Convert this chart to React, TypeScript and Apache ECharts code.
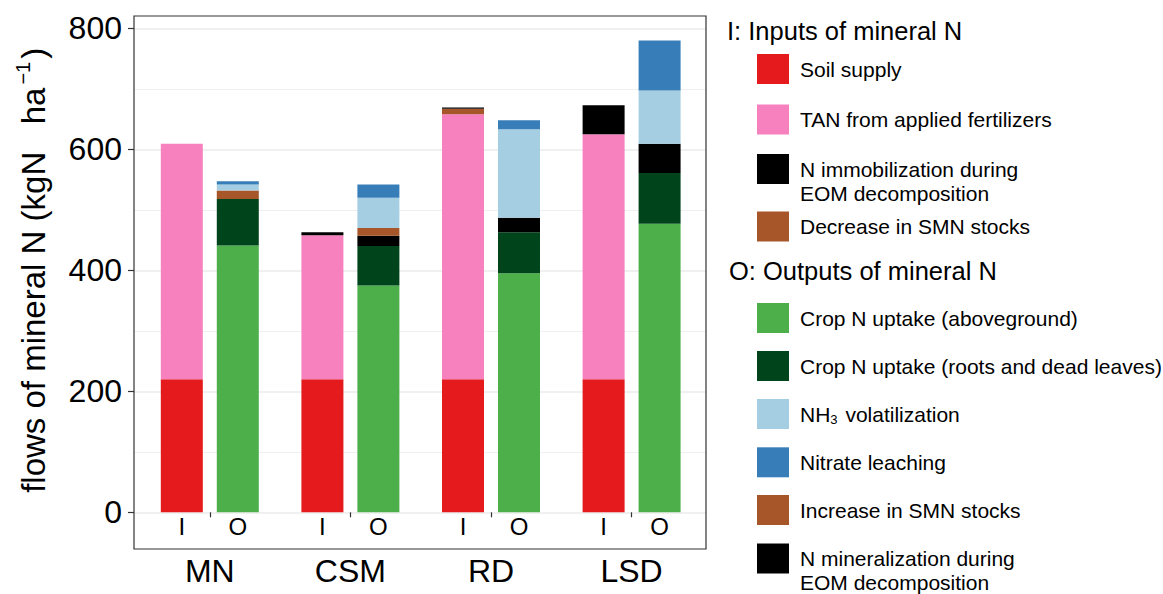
import React, { useEffect, useRef } from "react";
import * as echarts from "echarts";

// ---------- data ----------
const groups = ["MN", "CSM", "RD", "LSD"];
// Inputs of mineral N (stack "I")
const soilSupply = [220, 220, 220, 220];
const tanFertilizer = [389, 238, 438, 405];
const decreaseSMN = [0, 0, 9, 0];
const immobilization = [0, 5, 2, 48];
// Outputs of mineral N (stack "O")
const cropAbove = [441, 375, 395, 477];
const cropRoots = [77, 65, 68, 84];
const mineralization = [0, 17, 24, 48];
const increaseSMN = [14, 13, 0, 0];
const nh3Volatilization = [10, 50, 146, 88];
const nitrateLeaching = [5, 22, 15, 83];
const yMin = 0;
const yMax = 800;
const yStep = 200;

const FONT = "'Liberation Sans', Arial, sans-serif";

type S = { name: string; legend: string; data: number[]; color: string; stack: string; tag?: string };

const inputSeries: S[] = [
  { name: "Soil supply", legend: "Soil supply", data: soilSupply, color: "#E41A1C", stack: "I", tag: "I" },
  { name: "TAN from applied fertilizers", legend: "TAN from applied fertilizers", data: tanFertilizer, color: "#F781BF", stack: "I" },
  { name: "Decrease in SMN stocks", legend: "Decrease in SMN stocks", data: decreaseSMN, color: "#A65628", stack: "I" },
  { name: "N immobilization during EOM decomposition", legend: "N immobilization during\nEOM decomposition", data: immobilization, color: "#000000", stack: "I" },
];
const outputSeries: S[] = [
  { name: "Crop N uptake (aboveground)", legend: "Crop N uptake (aboveground)", data: cropAbove, color: "#4DAF4A", stack: "O", tag: "O" },
  { name: "Crop N uptake (roots and dead leaves)", legend: "Crop N uptake (roots and dead leaves)", data: cropRoots, color: "#00441B", stack: "O" },
  { name: "N mineralization during EOM decomposition", legend: "N mineralization during\nEOM decomposition", data: mineralization, color: "#000000", stack: "O" },
  { name: "Increase in SMN stocks", legend: "Increase in SMN stocks", data: increaseSMN, color: "#A65628", stack: "O" },
  { name: "NH3 volatilization", legend: "{a|NH}{b|3}{a| volatilization}", data: nh3Volatilization, color: "#A6CEE3", stack: "O" },
  { name: "Nitrate leaching", legend: "Nitrate leaching", data: nitrateLeaching, color: "#377EB8", stack: "O" },
];

// legend order (as in the figure)
const inputLegendOrder = [0, 1, 3, 2];
const outputLegendOrder = [0, 1, 4, 5, 3, 2];
const inputRowY = [69, 119.5, 169, 226.5];
const outputRowY = [318, 366, 414, 462.3, 510, 558.5];

export default function App() {
  const ref = useRef<HTMLDivElement>(null);
  useEffect(() => {
    if (!ref.current) return;
    const chart = echarts.init(ref.current, undefined, { renderer: "svg" });

    const panel = { left: 134, right: 706, top: 16, bottom: 549 };
    const y0 = 512.3;
    const y800 = 28.3;

    const mkSeries = (s: S) => ({
      type: "bar",
      name: s.name,
      xAxisIndex: 1,
      yAxisIndex: 1,
      stack: s.stack,
      data: s.data,
      barWidth: 42,
      barGap: "33.3%",
      itemStyle: { color: s.color },
      label: s.tag
        ? {
            show: true,
            position: "bottom",
            distance: 2,
            formatter: () => s.tag,
            fontFamily: FONT,
            fontSize: 24,
            color: "#000",
          }
        : { show: false },
    });

    const legendItems: any[] = [];
    const addLegend = (list: S[], order: number[], rows: number[]) => {
      order.forEach((idx, i) => {
        const s = list[idx];
        const cy = rows[i];
        const twoLine = s.legend.includes("\n");
        legendItems.push({
          type: "rect",
          shape: { x: 757, y: cy - 15, width: 32, height: 30 },
          style: { fill: s.color },
        });
        legendItems.push({
          type: "text",
          x: 800,
          y: twoLine ? cy - 12 : cy,
          style: {
            text: s.legend,
            fontFamily: FONT,
            fontSize: 21,
            lineHeight: 24,
            fill: "#000",
            verticalAlign: twoLine ? "top" : "middle",
            rich: {
              a: { fontFamily: FONT, fontSize: 21, fill: "#000", lineHeight: 24 },
              b: { fontFamily: FONT, fontSize: 13, fill: "#000", verticalAlign: "bottom", padding: [10, 2, 0, 0] },
            },
          },
        });
      });
    };
    addLegend(inputSeries, inputLegendOrder, inputRowY);
    addLegend(outputSeries, outputLegendOrder, outputRowY);

    const titleStyle = { fontFamily: FONT, fontSize: 25.5, fontWeight: "normal", color: "#000" };

    chart.setOption({
      animation: false,
      grid: [
        { left: panel.left, right: 1163 - panel.right, top: y800, bottom: 594 - y0 },
        { left: 139.5, right: 1163 - 701.9, top: y800, bottom: 594 - y0 },
      ],
      xAxis: [
        { type: "value", gridIndex: 0, min: 0, max: 1, show: false },
        {
          type: "category",
          gridIndex: 1,
          data: groups,
          offset: panel.bottom - y0,
          axisLine: { show: false },
          axisTick: { show: true, alignWithLabel: true, length: 5, lineStyle: { color: "#333", width: 1.2 } },
          axisLabel: { fontFamily: FONT, fontSize: 32, color: "#000", margin: 6 },
        },
      ],
      yAxis: [
        {
          type: "value",
          gridIndex: 0,
          min: yMin,
          max: yMax,
          interval: yStep,
          axisLine: { show: false },
          axisTick: { show: true, length: 6, lineStyle: { color: "#333", width: 1.2 } },
          axisLabel: { fontFamily: FONT, fontSize: 32, color: "#000", margin: 12 },
          splitLine: { show: true, lineStyle: { color: "#ebebeb", width: 1.5 } },
          minorTick: { show: false, splitNumber: 2 },
          minorSplitLine: { show: true, lineStyle: { color: "#f0f0f0", width: 1 } },
          name: "{t|flows of mineral N (kgN   ha}{s|−1}{t|)}",
          nameLocation: "middle",
          nameRotate: 90,
          nameGap: 81,
          nameTextStyle: {
            fontFamily: FONT,
            fontSize: 33,
            color: "#000",
            rich: {
              t: { fontFamily: FONT, fontSize: 33, color: "#000", lineHeight: 40 },
              s: { fontFamily: FONT, fontSize: 20, color: "#000", verticalAlign: "top", lineHeight: 20, padding: [0, 3, 0, 3] },
            },
          },
        },
        { type: "value", gridIndex: 1, min: yMin, max: yMax, show: false },
      ],
      title: [
        { text: "I: Inputs of mineral N", left: 727, top: 18, textStyle: titleStyle, padding: 0 },
        { text: "O: Outputs of mineral N", left: 729, top: 258, textStyle: titleStyle, padding: 0 },
      ],
      graphic: [
        {
          type: "rect",
          shape: { x: panel.left, y: panel.top, width: panel.right - panel.left, height: panel.bottom - panel.top },
          style: { fill: "none", stroke: "#333", lineWidth: 1.2 },
          z: 100,
        },
        ...legendItems,
      ],
      series: [...inputSeries.map(mkSeries), ...outputSeries.map(mkSeries)],
    });

    return () => chart.dispose();
  }, []);

  return (
    <div
      ref={ref}
      style={{ position: "fixed", left: 0, top: 0, width: 1163, height: 594, background: "#fff" }}
    />
  );
}
